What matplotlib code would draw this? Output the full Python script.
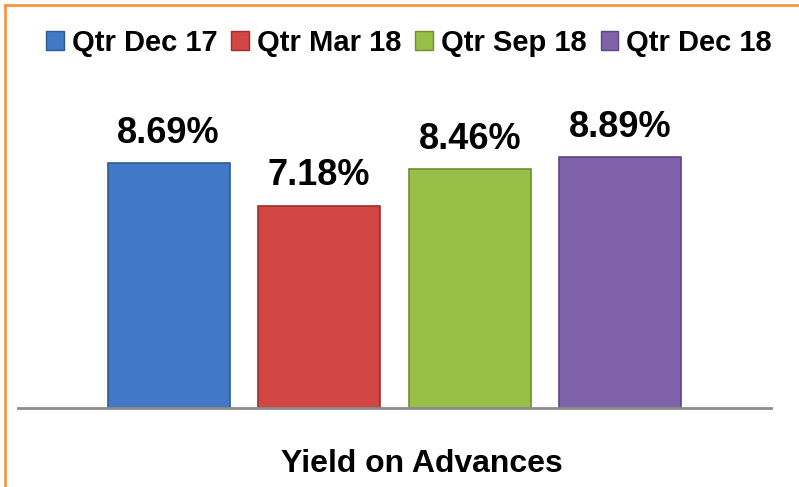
import matplotlib
matplotlib.use("Agg")
import matplotlib.pyplot as plt
from matplotlib.patches import Patch
from matplotlib.lines import Line2D
import numpy as np

# data
quarters = ["Qtr Dec 17", "Qtr Mar 18", "Qtr Sep 18", "Qtr Dec 18"]
yields = [8.69, 7.18, 8.46, 8.89]
colors = ["#4279c6", "#d24643", "#98bf47", "#8062ab"]
edge_colors = ["#2d5a96", "#9c2e2c", "#6f8f2e", "#5c4582"]
title = "Yield on Advances"

plt.rcParams["font.family"] = ["Liberation Sans", "DejaVu Sans"]
plt.rcParams["font.weight"] = "bold"

W, H = 799, 487
fig = plt.figure(figsize=(W / 100, H / 100), dpi=100)
fig.patch.set_facecolor("white")

# plot area: baseline at y=408 px, x from 18 to 771 px
ax = fig.add_axes([18 / W, (H - 408) / H, 753 / W, 308 / H])
x = np.arange(len(quarters))
bar_w = 0.81

ax.bar(x, yields, width=bar_w, color=colors, edgecolor=edge_colors,
       linewidth=1.2, zorder=2)

for xi, v in zip(x, yields):
    ax.annotate(f"{v:.2f}%", (xi, v), xytext=(0, 14.5), textcoords="offset points",
                ha="center", va="baseline", fontsize=26, fontweight="bold",
                color="black")

ax.set_xlim(-1, 4)
ax.set_ylim(0, 308 / 28.2)
for side in ["top", "left", "right"]:
    ax.spines[side].set_visible(False)
ax.spines["bottom"].set_color("#8c8c8c")
ax.spines["bottom"].set_linewidth(2)
ax.spines["bottom"].set_zorder(3)
ax.set_xticks([])
ax.set_yticks([])
ax.set_facecolor("none")

handles = [Patch(facecolor=c, edgecolor=e, linewidth=1) for c, e in zip(colors, edge_colors)]
fig.legend(handles, quarters, loc="center", bbox_to_anchor=(409 / W, 1 - 43 / H),
           ncol=4, frameon=False, handlelength=0.6, handleheight=0.6,
           handletextpad=0.28, columnspacing=0.48, borderpad=0, borderaxespad=0,
           prop={"weight": "bold", "size": 21})

fig.text(422 / W, 1 - 472 / H, title, ha="center", va="baseline",
         fontsize=23, fontweight="bold", color="black")

# orange frame (top and left edges visible)
fig.add_artist(Line2D([5 / W, 1], [1 - 5 / H, 1 - 5 / H], color="#f79646",
                      linewidth=2, transform=fig.transFigure))
fig.add_artist(Line2D([5 / W, 5 / W], [0, 1 - 5 / H], color="#f79646",
                      linewidth=2, transform=fig.transFigure))

fig.savefig("out.png", dpi=100)
